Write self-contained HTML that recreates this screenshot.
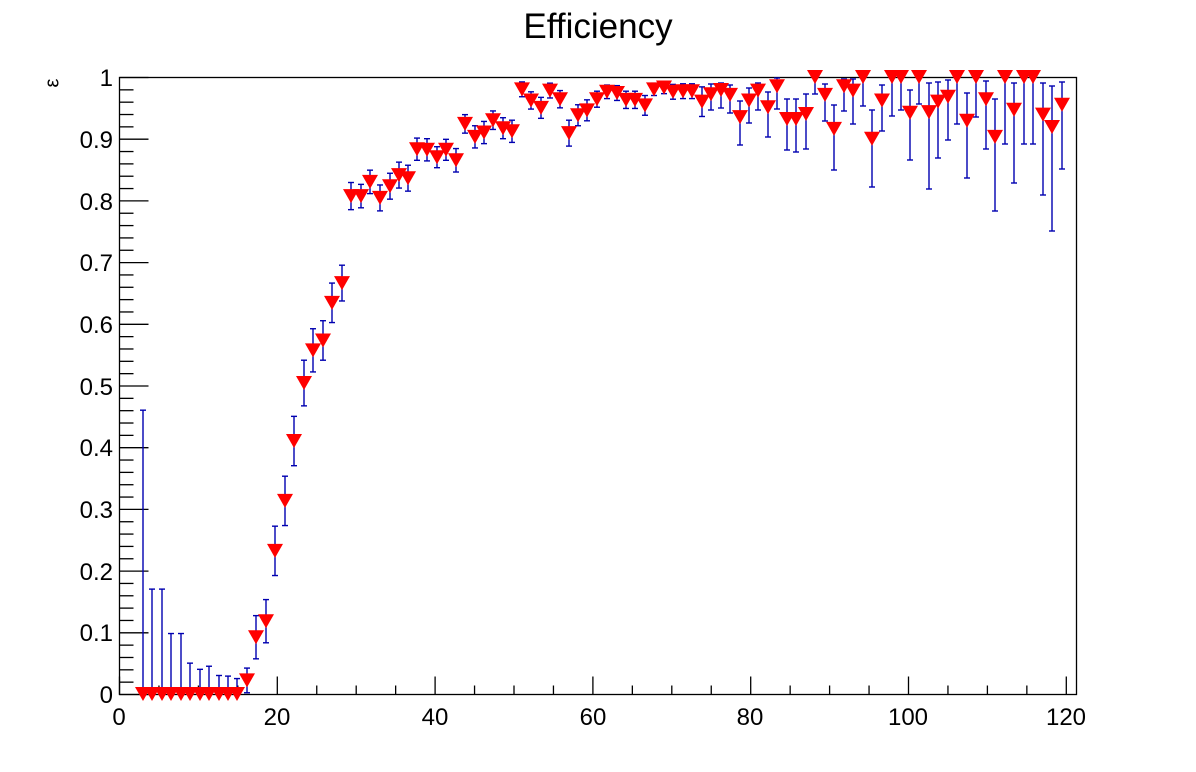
<!DOCTYPE html>
<html><head><meta charset="utf-8"><style>
html,body{margin:0;padding:0;background:#fff;}
svg{display:block;}
text{font-family:"Liberation Sans",sans-serif;}
</style></head><body>
<svg id="s" width="1196" height="772" xmlns="http://www.w3.org/2000/svg">
<rect width="1196" height="772" fill="#fff"/>
<text x="598" y="38" font-size="35" text-anchor="middle">Efficiency</text>
<text transform="translate(53,83) rotate(-90)" font-size="20" text-anchor="middle" dominant-baseline="middle">ε</text>
<g font-size="24" text-anchor="end">
<text x="113" y="703">0</text>
<text x="113" y="641">0.1</text>
<text x="113" y="580">0.2</text>
<text x="113" y="518">0.3</text>
<text x="113" y="456">0.4</text>
<text x="113" y="395">0.5</text>
<text x="113" y="333">0.6</text>
<text x="113" y="271">0.7</text>
<text x="113" y="210">0.8</text>
<text x="113" y="148">0.9</text>
<text x="113" y="86">1</text>
</g>
<g font-size="24" text-anchor="middle">
<text x="119" y="725">0</text>
<text x="277" y="725">20</text>
<text x="435" y="725">40</text>
<text x="593" y="725">60</text>
<text x="750" y="725">80</text>
<text x="908" y="725">100</text>
<text x="1066" y="725">120</text>
</g>
<g id="axes" stroke="#000" stroke-width="1.3" fill="none"></g>
<g id="err" stroke="#0000b0" stroke-width="1.4" fill="none"></g>
<g id="mk" fill="#ff0000"></g>
</svg>
<script>
var ns="http://www.w3.org/2000/svg";
function el(p,t,a){var e=document.createElementNS(ns,t);for(var k in a)e.setAttribute(k,a[k]);p.appendChild(e);return e;}
var ax=document.getElementById('axes'),er=document.getElementById('err'),mk=document.getElementById('mk');
var L=119.5,R=1076.5,T=77.5,B=694.5;
el(ax,'rect',{x:L,y:T,width:R-L,height:B-T});
for(var i=0;i<=50;i++){var y=B-617*i/50;var len=(i%5==0)?29:14;el(ax,'line',{x1:L,y1:y,x2:L+len,y2:y});}
for(var v=0;v<=121;v+=5){var x=L+v*7.89;if(x>R)break;var len=(v%20==0)?18:9;el(ax,'line',{x1:x,y1:B,x2:x,y2:B-len});}
function Y(v){return 694-617*v;}
var d=[];
var zx=[143,152,162,171,181,190,200,209,219,228,237],zh=[0.46,0.17,0.17,0.098,0.098,0.05,0.04,0.045,0.03,0.029,0.025];
for(var i=0;i<zx.length;i++)d.push([zx[i],Y(0),Y(0),Y(zh[i])]);
function p(x,v,e){d.push([x,Y(v),Y(v)+e*617,Y(v)-e*617]);}
p(247,0.022,0.02);p(256,0.092,0.035);p(266,0.118,0.035);p(275,0.232,0.04);p(285,0.313,0.04);
p(294,0.41,0.04);p(304,0.504,0.037);p(313,0.557,0.035);p(323,0.573,0.032);p(332,0.634,0.032);p(342,0.666,0.029);
p(351,0.807,0.022);p(361,0.807,0.019);p(370,0.83,0.019);p(380,0.804,0.021);p(390,0.823,0.021);p(399,0.841,0.021);
p(408,0.836,0.021);p(417,0.883,0.018);p(427,0.882,0.018);p(437,0.87,0.017);p(446,0.882,0.017);p(456,0.865,0.019);
p(465,0.924,0.015);p(475,0.903,0.018);p(484,0.91,0.018);p(493,0.93,0.015);p(503,0.917,0.017);p(512,0.912,0.018);
p(522,0.98,0.012);p(531,0.962,0.014);p(541,0.95,0.017);p(550,0.978,0.012);p(560,0.964,0.014);p(569,0.909,0.021);
p(578,0.938,0.017);p(587,0.946,0.017);p(597,0.964,0.013);p(607,0.976,0.011);p(617,0.974,0.012);p(626,0.963,0.014);
p(635,0.963,0.014);p(645,0.954,0.016);p(654,0.98,0.01);p(664,0.983,0.01);p(673,0.976,0.012);p(683,0.977,0.012);
p(692,0.977,0.012);p(702,0.96,0.024);
var q=[[711,0.972,84,110],[721,0.979,83,108],[730,0.971,85,113],[740,0.935,101,145],[749,0.962,88,123],[758,0.978,83,110],
[768,0.951,92,137],[777,0.985,78,109],[787,0.932,99,150],[796,0.932,99,152],[806,0.94,94,149],[815,1,77,94],[825,0.971,84,121],
[834,0.916,105,170],[844,0.985,79,111],[853,0.978,79,124],[863,1,77,106],[872,0.9,110,187],[882,0.962,85,131],[892,1,77,116],
[901,1,77,110],[910,0.942,90,160],[919,1,77,104],[929,0.943,83,189],[938,0.96,82,158],[948,0.968,80,140],[957,1,77,124],
[967,0.929,93,178],[976,1,77,117],[986,0.964,81,149],[995,0.903,99,211],[1005,1,77,144],[1014,0.947,83,183],[1024,1,77,144],
[1033,1,77,144],[1043,0.939,83,195],[1052,0.919,86,231],[1062,0.955,82,169]];
q.forEach(function(a){d.push([a[0],Y(a[1]),a[3],a[2]]);});
d.forEach(function(a){var x=a[0],y=a[1],lo=a[2],hi=a[3];
 if(Math.abs(lo-hi)>0.5){el(er,'line',{x1:x,y1:hi,x2:x,y2:lo});
  if(hi<y-0.5)el(er,'line',{x1:x-3,y1:hi,x2:x+3,y2:hi});
  if(lo>y+0.5)el(er,'line',{x1:x-3,y1:lo,x2:x+3,y2:lo});}
 el(mk,'polygon',{points:(x-8)+','+(y-7)+' '+(x+8)+','+(y-7)+' '+x+','+(y+7)});
});
</script>
</body></html>
